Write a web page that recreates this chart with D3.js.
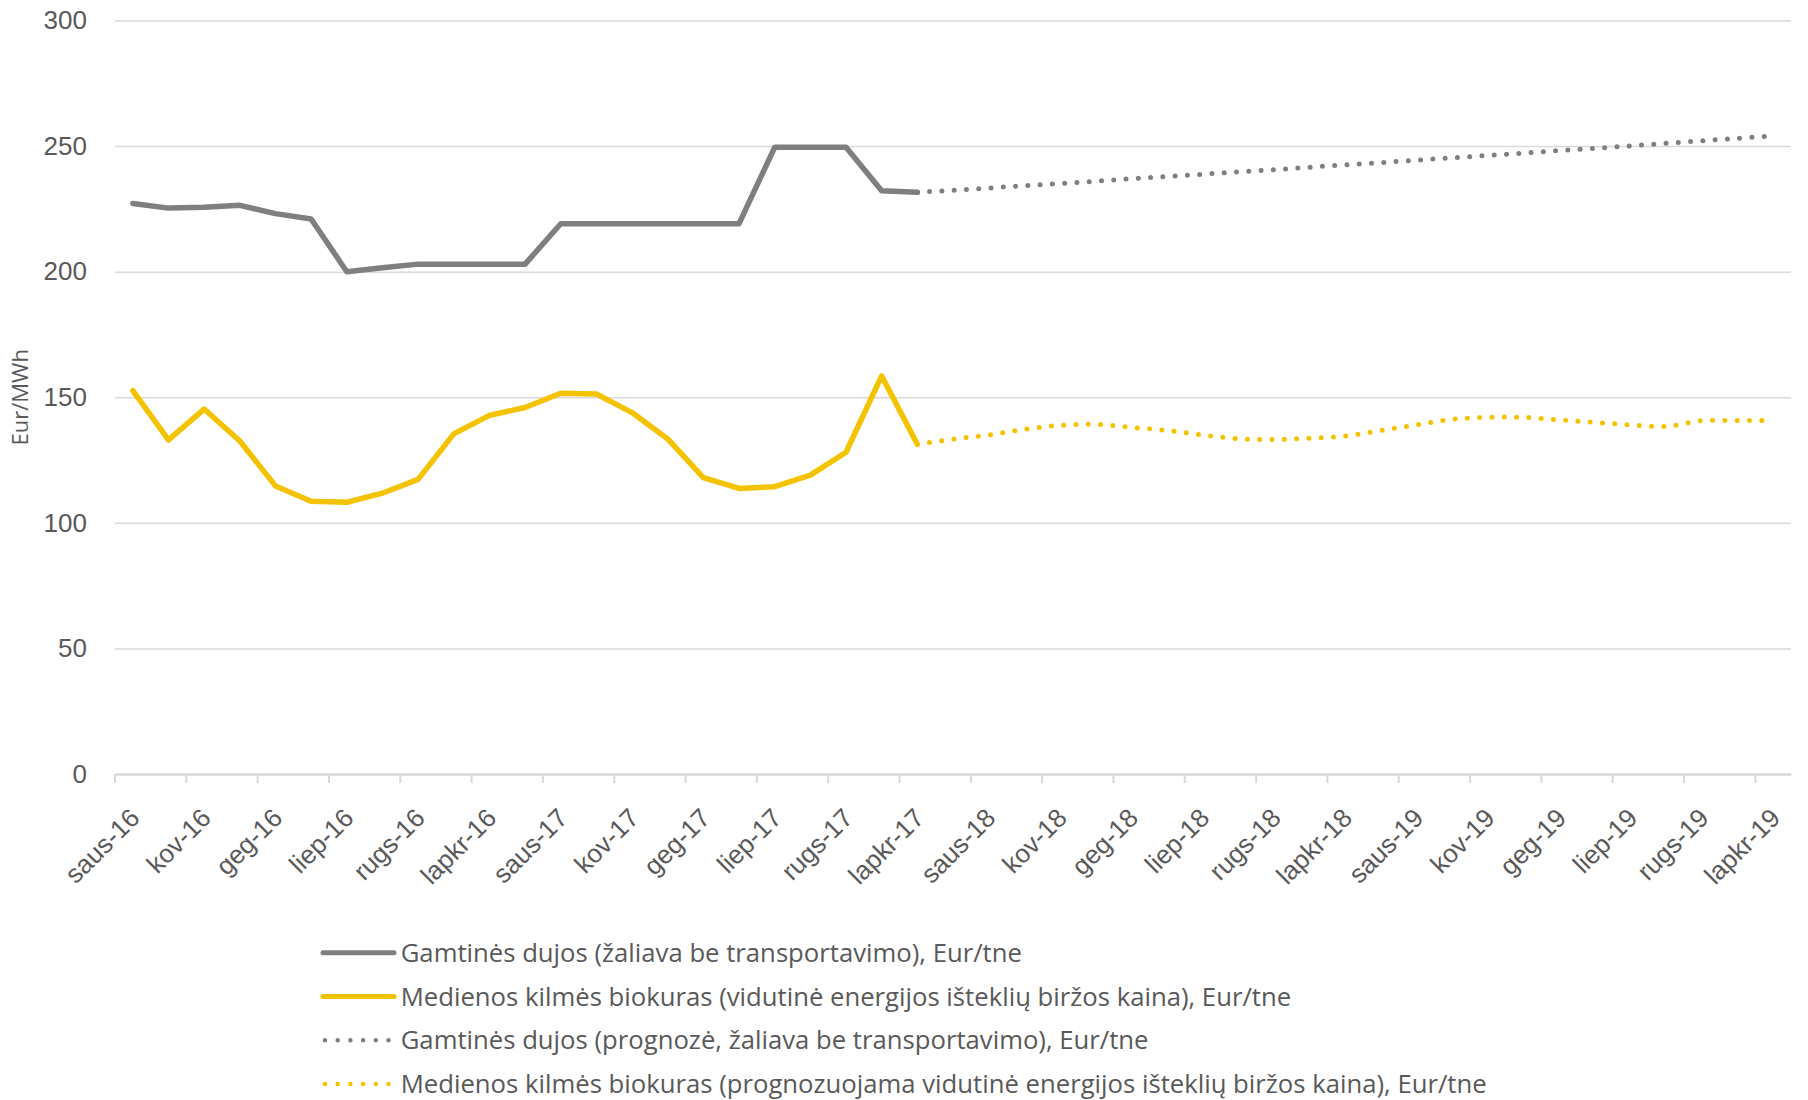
<!DOCTYPE html>
<html lang="lt">
<head>
  <meta charset="UTF-8">
  <title>Gamtinių dujų ir medienos kilmės biokuro kainos</title>
  <script src="https://d3js.org/d3.v7.min.js"></script>
  <style>
    html, body {
      margin: 0;
      background: #fff;
    }
    svg {
      display: block;
      font-family: "Open Sans", sans-serif;
    }
    .tick text {
      fill: #595959;
      font-size: 26px;
    }
    .axis-title, .legend text {
      fill: #595959;
    }
  </style>
</head>
<body>
  <div id="chart"></div>

  <script>
    // Categories: Jan 2016 - Nov 2019, one per month
    const categories = [
      "saus-16", "vas-16", "kov-16", "bal-16", "geg-16", "birž-16", "liep-16", "rugp-16", "rugs-16", "spal-16", "lapkr-16", "gruod-16",
      "saus-17", "vas-17", "kov-17", "bal-17", "geg-17", "birž-17", "liep-17", "rugp-17", "rugs-17", "spal-17", "lapkr-17", "gruod-17",
      "saus-18", "vas-18", "kov-18", "bal-18", "geg-18", "birž-18", "liep-18", "rugp-18", "rugs-18", "spal-18", "lapkr-18", "gruod-18",
      "saus-19", "vas-19", "kov-19", "bal-19", "geg-19", "birž-19", "liep-19", "rugp-19", "rugs-19", "spal-19", "lapkr-19"
    ];

    // Actual values: saus-16 .. lapkr-17
    const gasActual = [
      227.1, 225.3, 225.6, 226.4, 223.1, 221.0, 200.0, 201.6, 203.0, 203.0, 203.0, 203.0,
      219.1, 219.1, 219.1, 219.1, 219.1, 219.1, 249.5, 249.5, 249.5, 232.2, 231.6
    ];
    const bioActual = [
      152.6, 133.0, 145.3, 132.6, 114.7, 108.6, 108.2, 111.8, 117.3, 135.4, 142.8, 145.9,
      151.6, 151.3, 143.9, 133.4, 118.0, 113.7, 114.4, 119.0, 128.1, 158.5, 131.3
    ];

    // Forecast values: lapkr-17 .. lapkr-19
    const forecastStart = 22;
    const gasForecast = [
      231.6, 232.4, 233.3, 234.2, 235.1, 236.0, 237.0, 237.9, 238.8, 239.7, 240.6, 241.6,
      242.5, 243.4, 244.4, 245.3, 246.3, 247.2, 248.2, 249.1, 250.1, 251.1, 252.1, 253.1, 254.1
    ];
    const bioForecast = [
      131.3, 133.3, 135.0, 137.2, 138.8, 139.2, 138.0, 136.8, 135.0, 133.5, 133.2, 133.7,
      134.6, 136.8, 139.0, 141.2, 142.0, 142.0, 141.0, 140.0, 139.0, 138.4, 140.7, 140.7, 140.7
    ];

    const yTicks = [0, 50, 100, 150, 200, 250, 300];

    const legendLabels = [
      "Gamtinės dujos (žaliava be transportavimo), Eur/tne",
      "Medienos kilmės biokuras (vidutinė energijos išteklių biržos kaina), Eur/tne",
      "Gamtinės dujos (prognozė, žaliava be transportavimo), Eur/tne",
      "Medienos kilmės biokuras (prognozuojama vidutinė energijos išteklių biržos kaina), Eur/tne"
    ];

    const gray = "#7f7f7f",
          gold = "#f4c300";

    const W = 1808, H = 1100;
    const plot = { left: 115, right: 1791, top: 20.5, bottom: 774 };

    const svg = d3.select("#chart")
      .append("svg")
      .attr("width", W)
      .attr("height", H);

    const x = d3.scaleBand()
      .domain(categories)
      .range([plot.left, plot.right])
      .padding(0);

    const y = d3.scaleLinear()
      .domain([0, 300])
      .range([plot.bottom, plot.top]);

    const cx = c => x(c) + x.bandwidth() / 2;

    // Y axis with gridlines
    const yAxis = svg.append("g")
      .attr("transform", `translate(${plot.left},0)`)
      .call(d3.axisLeft(y)
        .tickValues(yTicks)
        .tickSize(-(plot.right - plot.left))
        .tickPadding(28));
    yAxis.select(".domain").remove();
    yAxis.selectAll(".tick line")
      .attr("stroke", "#d9d9d9")
      .attr("stroke-width", 1.5);

    // X axis: tick marks between categories, labels every second month
    const labelCats = categories.filter((d, i) => i % 2 === 0);
    const xAxis = svg.append("g")
      .attr("transform", `translate(0,${plot.bottom})`)
      .call(d3.axisBottom(x).tickValues(labelCats).tickSize(9).tickSizeOuter(0));
    xAxis.select(".domain")
      .attr("stroke", "#d9d9d9")
      .attr("stroke-width", 2.5);
    xAxis.selectAll(".tick line")
      .attr("stroke", "#d9d9d9")
      .attr("stroke-width", 2)
      .attr("x1", -x.bandwidth() / 2)
      .attr("x2", -x.bandwidth() / 2);
    xAxis.selectAll(".tick text")
      .attr("y", 0)
      .attr("dy", "0.35em")
      .attr("transform", "translate(2,39) rotate(-45)")
      .style("text-anchor", "end");

    // Axis title
    svg.append("text")
      .attr("class", "axis-title")
      .attr("transform", `translate(20,${(plot.top + plot.bottom) / 2}) rotate(-90)`)
      .attr("text-anchor", "middle")
      .attr("dy", "0.35em")
      .style("font-size", "22px")
      .text("Eur/MWh");

    // Lines
    const solid = d3.line()
      .x((d, i) => cx(categories[i]))
      .y(d => y(d));

    const dotted = d3.line()
      .x((d, i) => cx(categories[i + forecastStart]))
      .y(d => y(d))
      .curve(d3.curveCatmullRom);

    const series = [
      { values: gasActual, gen: solid, color: gray, dash: null },
      { values: bioActual, gen: solid, color: gold, dash: null },
      { values: gasForecast, gen: dotted, color: gray, dash: "0 12.3" },
      { values: bioForecast, gen: dotted, color: gold, dash: "0 12.3" }
    ];

    svg.selectAll("path.series")
      .data(series)
      .enter()
      .append("path")
      .attr("class", "series")
      .attr("fill", "none")
      .attr("stroke", d => d.color)
      .attr("stroke-width", d => d.dash ? 5 : 5.5)
      .attr("stroke-linecap", "round")
      .attr("stroke-linejoin", "round")
      .attr("stroke-dasharray", d => d.dash)
      .attr("d", d => d.gen(d.values));

    // Legend
    const legend = svg.append("g")
      .attr("class", "legend")
      .attr("transform", "translate(323,952.7)");

    const item = legend.selectAll("g")
      .data(series)
      .enter()
      .append("g")
      .attr("transform", (d, i) => `translate(0,${i * 43.8})`);

    item.append("line")
      .attr("x1", d => d.dash ? 2 : 0)
      .attr("x2", 71)
      .attr("stroke", d => d.color)
      .attr("stroke-width", d => d.dash ? 4.5 : 5)
      .attr("stroke-linecap", "round")
      .attr("stroke-dasharray", d => d.dash ? "0 12.7" : null);

    item.append("text")
      .attr("x", 77.7)
      .attr("dy", "0.35em")
      .style("font-size", "25.7px")
      .text((d, i) => legendLabels[i]);
  </script>
</body>
</html>
